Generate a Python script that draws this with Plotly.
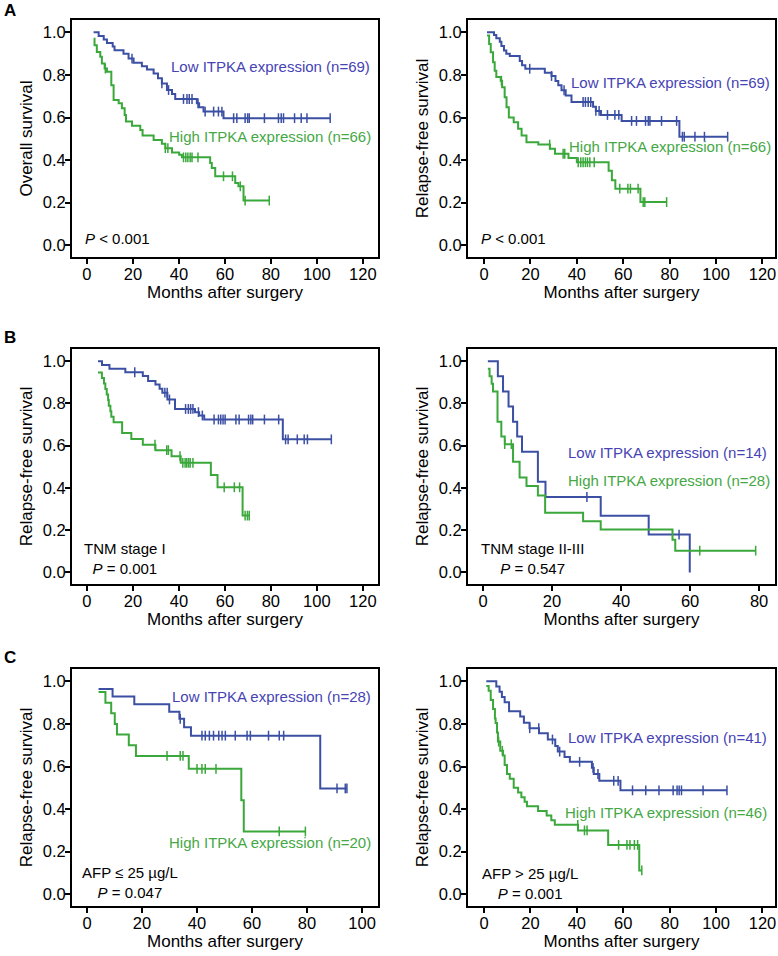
import plotly.graph_objects as go

BLUE = '#3b4fa3'
GREEN = '#3aa83a'
BLUE_TXT = '#4643b4'
GREEN_TXT = '#45a845'
FONT = 'Arial, Liberation Sans, sans-serif'

# ---------------- Panel A (left): overall survival, all patients ----------------
a1_low_t = [2.9, 5.1, 7.3, 8.7, 11.2, 12.0, 15.9, 18.1, 20.3, 23.9, 26.1, 29.0, 30.9, 32.6, 34.8, 37.0, 38.4, 47.8, 48.8, 50.7, 59.4]
a1_low_s = [1.0, 0.983, 0.966, 0.95, 0.934, 0.916, 0.90, 0.877, 0.857, 0.841, 0.826, 0.807, 0.784, 0.76, 0.729, 0.71, 0.687, 0.667, 0.648, 0.628, 0.597]
a1_low_c = [19.6, 32.6, 35.5, 42.0, 43.5, 44.5, 45.7, 48.3, 51.4, 55.1, 57.2, 58.7, 63.8, 65.2, 68.8, 69.9, 70.6, 77.2, 83.3, 84.5, 85.5, 90.3, 93.2, 95.7, 105.8]
a1_high_t = [2.9, 3.3, 4.3, 5.8, 6.5, 7.7, 8.7, 10.6, 11.6, 13.8, 15.2, 16.4, 17.0, 19.6, 23.2, 24.2, 29.0, 32.6, 34.1, 37.0, 40.1, 41.3, 53.6, 54.3, 55.8, 64.5, 65.9, 68.1]
a1_high_s = [0.97, 0.939, 0.908, 0.885, 0.854, 0.83, 0.815, 0.752, 0.682, 0.667, 0.643, 0.612, 0.581, 0.561, 0.542, 0.516, 0.495, 0.477, 0.456, 0.436, 0.425, 0.413, 0.386, 0.363, 0.324, 0.293, 0.277, 0.21]
a1_high_c = [8.0, 34.1, 35.2, 42.0, 43.0, 43.9, 44.9, 45.7, 48.3, 59.4, 63.3, 66.7, 68.8, 79.3]

# ---------------- Panel A (right): relapse-free survival, all patients ----------------
a2_low_t = [1.3, 4.3, 5.3, 6.8, 7.5, 8.6, 9.6, 11.1, 15.4, 16.4, 17.8, 26.2, 29.1, 30.8, 32.0, 33.4, 35.2, 37.7, 47.0, 48.2, 50.4, 59.3, 84.2]
a2_low_s = [1.0, 0.987, 0.972, 0.956, 0.936, 0.915, 0.90, 0.889, 0.865, 0.845, 0.829, 0.81, 0.795, 0.772, 0.751, 0.728, 0.704, 0.673, 0.651, 0.631, 0.612, 0.584, 0.51]
a2_low_c = [19.7, 29.1, 34.5, 42.7, 43.7, 44.9, 46.0, 48.2, 49.6, 53.2, 56.4, 58.1, 63.6, 65.7, 69.6, 70.8, 71.5, 76.5, 83.0, 85.5, 86.3, 90.9, 95.0, 105.0]
a2_high_t = [1.3, 2.2, 2.9, 3.9, 4.6, 5.3, 7.2, 7.8, 8.9, 9.7, 10.7, 12.8, 14.7, 16.2, 18.3, 23.4, 28.4, 30.6, 36.4, 40.0, 53.7, 55.1, 56.6, 67.4]
a2_high_s = [0.985, 0.945, 0.906, 0.86, 0.82, 0.79, 0.773, 0.742, 0.695, 0.648, 0.60, 0.578, 0.547, 0.516, 0.484, 0.473, 0.453, 0.43, 0.41, 0.39, 0.35, 0.305, 0.266, 0.203]
a2_high_c = [7.5, 28.3, 34.1, 34.8, 40.6, 41.7, 42.7, 43.7, 44.6, 45.6, 47.5, 58.5, 62.0, 63.1, 66.4, 68.6, 69.3, 78.7]

# ---------------- Panel B (left): TNM stage I ----------------
b1_low_t = [4.8, 6.55, 9.8, 16.7, 24.3, 26.6, 29.8, 31.6, 32.8, 35.0, 38.3, 47.0, 48.8, 51.0, 85.2]
b1_low_s = [1.0, 0.982, 0.965, 0.948, 0.93, 0.906, 0.89, 0.87, 0.851, 0.819, 0.774, 0.759, 0.743, 0.724, 0.63]
b1_low_c = [20.8, 33.9, 34.9, 35.9, 42.9, 44.1, 45.1, 46.1, 48.5, 50.2, 55.3, 57.2, 58.2, 59.2, 60.1, 64.8, 66.2, 70.3, 71.3, 72.1, 77.2, 83.4, 86.4, 87.5, 91.5, 94.5, 95.9, 106.3]
b1_high_t = [4.8, 6.5, 7.4, 8.0, 8.6, 9.2, 9.5, 10.2, 10.6, 11.6, 15.3, 19.3, 24.3, 29.8, 36.8, 40.8, 53.9, 56.8, 67.7]
b1_high_s = [0.947, 0.921, 0.895, 0.868, 0.842, 0.816, 0.789, 0.763, 0.737, 0.711, 0.66, 0.632, 0.605, 0.579, 0.55, 0.519, 0.461, 0.403, 0.269]
b1_high_c = [29.6, 34.7, 35.4, 40.5, 41.7, 42.7, 43.4, 44.2, 44.9, 46.1, 59.7, 64.1, 66.4, 68.8, 69.8, 70.6]

# ---------------- Panel B (right): TNM stage II-III ----------------
b2_low_t = [1.4, 4.3, 5.8, 7.4, 8.7, 9.9, 11.3, 15.9, 18.1, 34.1, 48.0, 59.9]
b2_low_s = [1.0, 0.929, 0.857, 0.786, 0.714, 0.643, 0.571, 0.429, 0.357, 0.268, 0.179, 0.0]
b2_low_c = [30.1, 56.8]
b2_high_t = [1.4, 1.9, 2.5, 2.9, 4.2, 5.3, 6.3, 8.7, 10.6, 12.6, 15.9, 18.0, 29.0, 34.1, 54.9, 55.7]
b2_high_s = [0.964, 0.929, 0.893, 0.857, 0.714, 0.643, 0.607, 0.524, 0.449, 0.409, 0.364, 0.282, 0.242, 0.203, 0.155, 0.103]
b2_high_c = [6.3, 8.2, 62.8, 79.0]

# ---------------- Panel C (left): AFP <= 25 ug/L ----------------
c1_low_t = [4.2, 9.3, 17.2, 29.9, 33.6, 35.3, 37.8, 84.8]
c1_low_s = [0.964, 0.929, 0.893, 0.857, 0.824, 0.784, 0.745, 0.497]
c1_low_c = [33.9, 41.8, 43.0, 44.5, 46.0, 47.9, 49.1, 50.3, 53.9, 58.2, 59.4, 66.0, 69.9, 71.5, 90.9, 93.9, 94.5]
c1_high_t = [4.2, 6.7, 8.8, 10.1, 10.9, 15.2, 17.8, 37.0, 56.1, 57.0]
c1_high_s = [0.95, 0.90, 0.85, 0.80, 0.75, 0.70, 0.65, 0.589, 0.442, 0.295]
c1_high_c = [29.1, 33.9, 34.9, 40.0, 41.8, 43.0, 46.9, 69.9, 79.4]

# ---------------- Panel C (right): AFP > 25 ug/L ----------------
c2_low_t = [1.0, 5.3, 6.7, 7.7, 8.9, 10.8, 15.6, 17.2, 19.6, 23.7, 27.5, 30.7, 31.8, 34.7, 37.0, 46.5, 47.3, 49.7, 58.8]
c2_low_s = [1.0, 0.976, 0.951, 0.927, 0.902, 0.859, 0.835, 0.805, 0.78, 0.756, 0.727, 0.696, 0.67, 0.645, 0.622, 0.594, 0.565, 0.533, 0.488]
c2_low_c = [19.7, 23.6, 29.5, 32.6, 41.2, 47.0, 49.1, 55.9, 57.8, 64.0, 69.7, 75.4, 81.5, 83.2, 84.1, 85.1, 94.4, 104.7]
c2_high_t = [1.0, 2.0, 2.9, 3.9, 4.7, 5.0, 5.6, 6.0, 7.0, 8.2, 8.9, 9.9, 11.1, 12.8, 14.7, 16.1, 17.5, 18.5, 23.3, 27.0, 29.0, 30.5, 40.5, 53.5, 66.9]
c2_high_s = [0.978, 0.956, 0.913, 0.87, 0.826, 0.804, 0.76, 0.717, 0.674, 0.652, 0.607, 0.565, 0.543, 0.50, 0.478, 0.456, 0.435, 0.413, 0.391, 0.37, 0.348, 0.326, 0.30, 0.232, 0.112]
c2_high_c = [6.3, 7.9, 40.4, 43.3, 44.4, 58.0, 61.6, 62.9, 64.8, 66.2, 68.0]

x_ticks_120 = [0, 20, 40, 60, 80, 100, 120]
x_ticks_80 = [0, 20, 40, 60, 80]
x_ticks_100 = [0, 20, 40, 60, 80, 100]
y_ticks = [0.0, 0.2, 0.4, 0.6, 0.8, 1.0]

W, H = 778, 956
colL = [72 / W, 378 / W]
colR = [468 / W, 775 / W]
rowA = [1 - 257 / H, 1 - 20 / H]
rowB = [1 - 584 / H, 1 - 349 / H]
rowC = [1 - 906 / H, 1 - 669 / H]

panels = [
    dict(n='', xd=colL, yd=rowA, xr=[-6.5, 126.6], xt=x_ticks_120, yt='Overall survival',
         low=(a1_low_t, a1_low_s, a1_low_c), high=(a1_high_t, a1_high_s, a1_high_c),
         lowlab=('Low ITPKA expression (n=69)', 124.0, 0.84),
         highlab=('High ITPKA expression (n=66)', 124.3, 0.51),
         ptxt='<i>P</i> &lt; 0.001', pxy=(-1.7, 0.033)),
    dict(n='2', xd=colR, yd=rowA, xr=[-6.9, 125.4], xt=x_ticks_120, yt='Relapse-free survival',
         low=(a2_low_t, a2_low_s, a2_low_c), high=(a2_high_t, a2_high_s, a2_high_c),
         lowlab=('Low ITPKA expression (n=69)', 124.3, 0.765),
         highlab=('High ITPKA expression (n=66)', 124.7, 0.466),
         ptxt='<i>P</i> &lt; 0.001', pxy=(-2.2, 0.033)),
    dict(n='3', xd=colL, yd=rowB, xr=[-6.5, 126.6], xt=x_ticks_120, yt='Relapse-free survival',
         low=(b1_low_t, b1_low_s, b1_low_c), high=(b1_high_t, b1_high_s, b1_high_c),
         lowlab=('Low ITPKA expression (n=55)', 127.2, 0.875),
         highlab=('High ITPKA expression (n=38)', 127.2, 0.592),
         ptxt='TNM stage I<br><i>P</i> = 0.001', pxy=(-2.2, 0.067)),
    dict(n='4', xd=colR, yd=rowB, xr=[-4.35, 84.6], xt=x_ticks_80, yt='Relapse-free survival',
         low=(b2_low_t, b2_low_s, b2_low_c), high=(b2_high_t, b2_high_s, b2_high_c),
         lowlab=('Low ITPKA expression (n=14)', 82.9, 0.568),
         highlab=('High ITPKA expression (n=28)', 83.8, 0.433),
         ptxt='TNM stage II-III<br><i>P</i> = 0.547', pxy=(-1.2, 0.067)),
    dict(n='5', xd=colL, yd=rowC, xr=[-5.45, 105.8], xt=x_ticks_100, yt='Relapse-free survival',
         low=(c1_low_t, c1_low_s, c1_low_c), high=(c1_high_t, c1_high_s, c1_high_c),
         lowlab=('Low ITPKA expression (n=28)', 104.0, 0.93),
         highlab=('High ITPKA expression (n=20)', 104.0, 0.243),
         ptxt='AFP ≤ 25 µg/L<br><i>P</i> = 0.047', pxy=(-2.5, 0.057)),
    dict(n='6', xd=colR, yd=rowC, xr=[-6.9, 125.4], xt=x_ticks_120, yt='Relapse-free survival',
         low=(c2_low_t, c2_low_s, c2_low_c), high=(c2_high_t, c2_high_s, c2_high_c),
         lowlab=('Low ITPKA expression (n=41)', 122.6, 0.735),
         highlab=('High ITPKA expression (n=46)', 122.6, 0.382),
         ptxt='AFP &gt; 25 µg/L<br><i>P</i> = 0.001', pxy=(-1.7, 0.052)),
]


def level_at(t, s, c):
    lv = s[0]
    for ti, si in zip(t, s):
        if ti <= c:
            lv = si
    return lv


fig = go.Figure()
annotations = []
layout_axes = {}

for p in panels:
    n = p['n']
    xref, yref = 'x' + n, 'y' + n
    for key, color, txtcol in (('low', BLUE, BLUE_TXT), ('high', GREEN, GREEN_TXT)):
        t, s, c = p[key]
        end = max(max(c) if c else t[-1], t[-1])
        xs = list(t) + [end]
        ys = list(s) + [s[-1]]
        fig.add_trace(go.Scatter(x=xs, y=ys, mode='lines', line=dict(color=color, width=2, shape='hv'),
                                 xaxis=xref, yaxis=yref, showlegend=False, hoverinfo='skip'))
        cy = [level_at(t, s, ci) for ci in c]
        fig.add_trace(go.Scatter(x=c, y=cy, mode='markers',
                                 marker=dict(symbol='line-ns', size=7, line=dict(color=color, width=1.5)),
                                 xaxis=xref, yaxis=yref, showlegend=False, hoverinfo='skip'))
        lab = p[key + 'lab']
        annotations.append(dict(text=lab[0], x=lab[1], y=lab[2], xref=xref, yref=yref,
                                xanchor='right', yanchor='middle', showarrow=False,
                                font=dict(family=FONT, size=15, color=txtcol)))
    annotations.append(dict(text=p['ptxt'], x=p['pxy'][0], y=p['pxy'][1], xref=xref, yref=yref,
                            xanchor='left', yanchor='middle', align='center', showarrow=False,
                            font=dict(family=FONT, size=15, color='black')))
    axis_common = dict(showline=True, linecolor='black', linewidth=2, mirror=True,
                       ticks='outside', ticklen=5, tickwidth=1.5, tickcolor='black',
                       showgrid=False, zeroline=False, ticklabelstandoff=-4,
                       tickfont=dict(family=FONT, size=16.5, color='black'))
    layout_axes['xaxis' + n] = dict(axis_common, domain=p['xd'], range=p['xr'], tickvals=p['xt'],
                                    anchor=yref,
                                    title=dict(text='Months after surgery', standoff=1,
                                               font=dict(family=FONT, size=17, color='black')))
    layout_axes['yaxis' + n] = dict(axis_common, domain=p['yd'], range=[-0.055, 1.058], tickvals=y_ticks,
                                    tickformat='.1f', anchor=xref,
                                    title=dict(text=p['yt'], standoff=6,
                                               font=dict(family=FONT, size=17, color='black')))

for letter, yy in (('A', 11), ('B', 337), ('C', 657)):
    annotations.append(dict(text='<b>' + letter + '</b>', x=2 / W, y=1 - yy / H, xref='paper', yref='paper',
                            xanchor='left', yanchor='middle', showarrow=False,
                            font=dict(family=FONT, size=17, color='black')))

fig.update_layout(width=W, height=H, margin=dict(l=0, r=0, t=0, b=0),
                  paper_bgcolor='white', plot_bgcolor='white',
                  font=dict(family=FONT), annotations=annotations, **layout_axes)

fig.write_html('out.html', config={'displayModeBar': False},
               post_script="document.body.style.margin='0px';document.body.style.overflow='hidden';")
